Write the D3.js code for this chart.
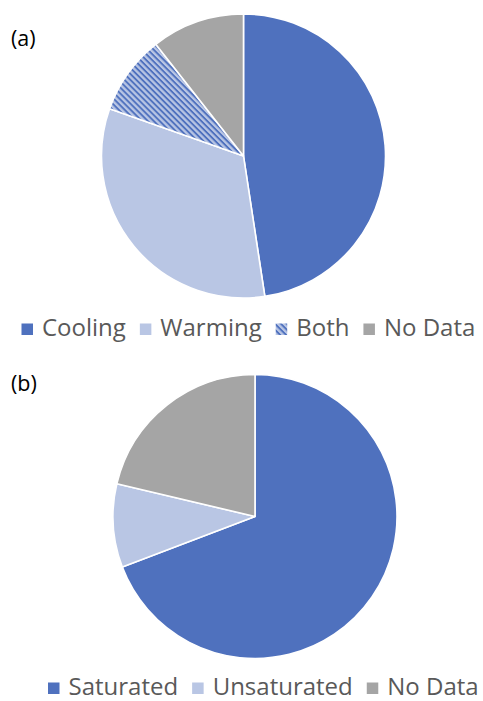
<!DOCTYPE html>
<html>
<head>
<meta charset="utf-8">
<script src="https://cdn.jsdelivr.net/npm/d3@7"></script>
<style>
  html, body { margin: 0; padding: 0; background: #fff; }
  svg { display: block; }
  text { font-family: "Open Sans", "DejaVu Sans", sans-serif; }
</style>
</head>
<body>
<svg id="chart" width="483" height="701"></svg>
<script>
// Panel (a): share of sites by response type (percent)
const categoriesA = ["Cooling", "Warming", "Both", "No Data"];
const valuesA = [47.6, 32.8, 9.0, 10.6];

// Panel (b): share of sites by saturation state (percent)
const categoriesB = ["Saturated", "Unsaturated", "No Data"];
const valuesB = [69.2, 9.5, 21.3];

const fills = {
  "Cooling": "#4f71be",
  "Saturated": "#4f71be",
  "Warming": "#b9c6e4",
  "Unsaturated": "#b9c6e4",
  "Both": "url(#stripes)",
  "No Data": "#a5a5a5"
};

const svg = d3.select("#chart");

// diagonal hatch used for the "Both" slice
const defs = svg.append("defs");
const pat = defs.append("pattern")
  .attr("id", "stripes")
  .attr("patternUnits", "userSpaceOnUse")
  .attr("width", 4.2).attr("height", 4.2)
  .attr("patternTransform", "rotate(45)");
pat.append("rect").attr("width", 4.2).attr("height", 4.2).attr("fill", "#b9c6e4");
pat.append("rect").attr("width", 4.2).attr("height", 1.9).attr("fill", "#4f71be");

const pie = d3.pie().sort(null).value(d => d.v);
const arc = d3.arc().innerRadius(0).outerRadius(142);

function drawPanel(cfg) {
  const data = cfg.cats.map((c, i) => ({ c, v: cfg.vals[i] }));
  const g = svg.append("g").attr("transform", `translate(${cfg.cx},${cfg.cy})`);
  g.selectAll("path")
    .data(pie(data))
    .join("path")
    .attr("d", arc)
    .attr("fill", d => fills[d.data.c])
    .attr("stroke", "#fff")
    .attr("stroke-width", 1.6)
    .attr("stroke-linejoin", "round");

  svg.append("text")
    .attr("x", 11).attr("y", cfg.labelY)
    .attr("font-size", 21.5).attr("fill", "#000")
    .text(cfg.label);

  // legend laid out left to right
  const lg = svg.append("g");
  let x = cfg.legendX;
  const sq = 11.5, fs = 24;
  cfg.cats.forEach(c => {
    lg.append("rect")
      .attr("x", x).attr("y", cfg.legendY - 12.5)
      .attr("width", sq).attr("height", sq)
      .attr("fill", fills[c]);
    x += sq + 9;
    const t = lg.append("text")
      .attr("x", x).attr("y", cfg.legendY)
      .attr("font-size", fs).attr("fill", "#595959")
      .text(c);
    x += t.node().getComputedTextLength() + 14;
  });
}

drawPanel({ cats: categoriesA, vals: valuesA, cx: 243.5, cy: 156, label: "(a)", labelY: 46, legendX: 21.5, legendY: 336 });
drawPanel({ cats: categoriesB, vals: valuesB, cx: 255, cy: 516.5, label: "(b)", labelY: 391, legendX: 48, legendY: 695 });
</script>
</body>
</html>
